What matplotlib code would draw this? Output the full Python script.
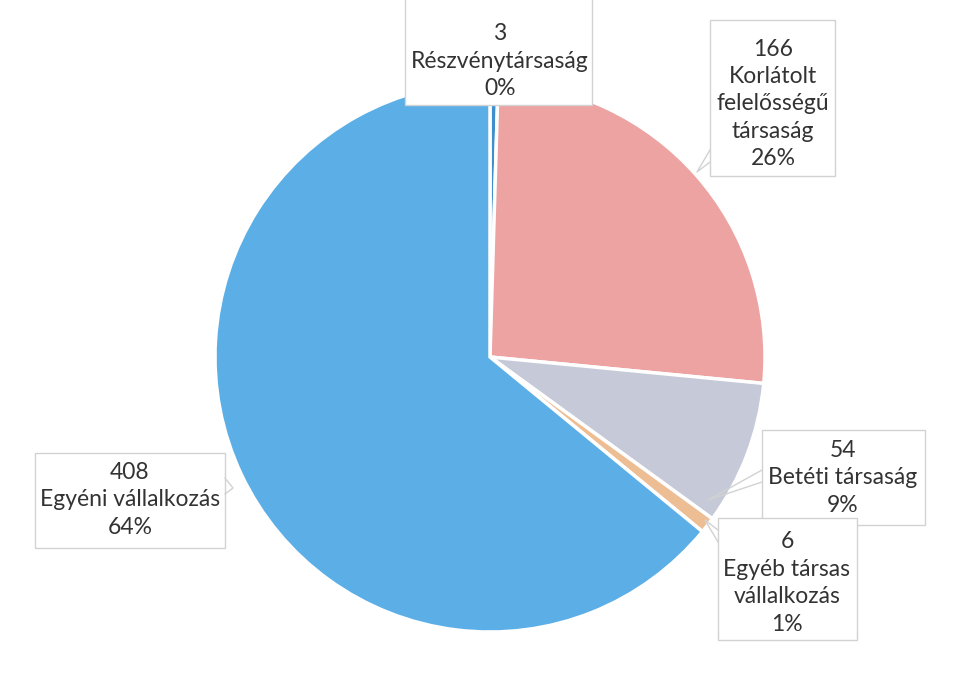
import matplotlib.pyplot as plt

# data
categories = ['Részvénytársaság', 'Korlátolt\nfelelősségű\ntársaság', 'Betéti társaság',
              'Egyéb társas\nvállalkozás', 'Egyéni vállalkozás']
counts = [3, 166, 54, 6, 408]
percents = [0, 26, 9, 1, 64]   # as printed on the chart
colors = ['#3F8FCC', '#ECA3A1', '#C6CAD8', '#EDBE94', '#5BAEE6']

plt.rcParams['font.family'] = ['Lato', 'DejaVu Sans']

W, H = 954, 697
fig = plt.figure(figsize=(W / 100, H / 100), dpi=100)
ax = fig.add_axes([0, 0, 1, 1])

cx, cy, r = 490, H - 357, 275
ax.pie(counts, colors=colors, startangle=90, counterclock=False,
       center=(cx, cy), radius=r, frame=True,
       wedgeprops=dict(edgecolor='white', linewidth=2.5))
ax.set_xlim(0, W)
ax.set_ylim(0, H)
ax.set_aspect('equal')
ax.axis('off')

# label layout in pixels from the top-left: text centre, box (left, top, right, bottom), pointer
text_pos = [(500, 61), (773, 104), (843, 478), (787, 583), (130, 500)]
boxes = [(405, -2, 592, 105), (710, 20, 835, 176), (762, 430, 925, 525),
         (718, 518, 857, 640), (35, 453, 225, 548)]
pointers = [None, [(710, 150), (697, 172), (710, 162)], [(762, 470), (708, 500), (762, 482)],
            [(718, 530), (705, 520), (718, 542)], [(225, 478), (233, 488), (225, 494)]]

for cat, n, pct, (x, y), (x0, y0, x1, y1), ptr in zip(categories, counts, percents,
                                                     text_pos, boxes, pointers):
    ax.add_patch(plt.Rectangle((x0, H - y1), x1 - x0, y1 - y0, facecolor='white',
                               edgecolor='#D2D2D2', linewidth=1.0, zorder=3))
    if ptr:
        px, py = zip(*ptr)
        ax.plot(px, [H - v for v in py], color='#D2D2D2', lw=1.0, zorder=3)
    ax.text(x, H - y, f'{n}\n{cat}\n{pct}%', ha='center', va='center', fontsize=16.5,
            color='#333333', linespacing=1.38, zorder=4)

plt.savefig('out.png', dpi=100, facecolor='white')
